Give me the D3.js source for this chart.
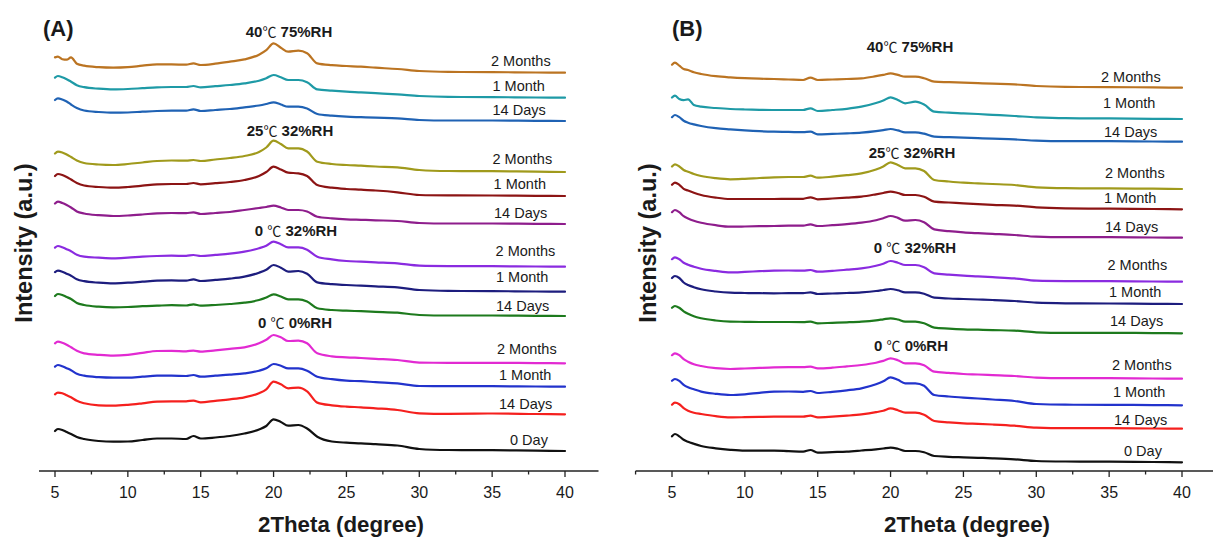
<!DOCTYPE html>
<html><head><meta charset="utf-8">
<script src="https://cdn.jsdelivr.net/npm/d3@7"></script>
<style>body{margin:0;background:#fff}svg{display:block}</style>
</head><body>
<svg id="c" width="1213" height="537"></svg>
<script>
// ---------- DATA ----------
const twoTheta = [5, 5.2, 5.5, 5.8, 6.1, 6.5, 7, 8, 9, 10, 11, 12, 13, 14, 14.5, 15, 16, 17, 18, 19, 19.5, 20, 20.5, 21, 21.7, 22.3, 23, 24, 25, 26, 27, 28.5, 30, 32, 35, 38, 40];
const majorTicks = [5, 10, 15, 20, 25, 30, 35, 40];
const minorTicks = [2.5, 7.5, 12.5, 17.5, 22.5, 27.5, 32.5, 37.5, 42.5];
const seriesLabels = ["0 Day", "14 Days", "1 Month", "2 Months", "14 Days", "1 Month", "2 Months", "14 Days", "1 Month", "2 Months", "14 Days", "1 Month", "2 Months"];

// Panel A (relative intensity, a.u.)
const a_0C0RH_0Day      = [20, 22, 21, 19, 17, 14, 12, 10, 9.3, 9.5, 11, 12.5, 12.5, 12, 15, 12.5, 13.5, 15, 17.5, 21.5, 25, 31.7, 29, 25.3, 26, 22.5, 14.3, 9.5, 8.3, 7.7, 6.8, 5.5, 2, 1, 0.8, 0.3, 0];
const a_0C0RH_14Days    = [20, 21.7, 21, 19, 17, 13.5, 11, 9, 8.7, 9.5, 11, 12.7, 13, 13, 13.7, 12, 13.5, 15, 17, 21, 25, 32.7, 30, 26, 26.7, 23, 11.7, 9, 7.7, 7, 6, 4.3, 1, 0.5, 0.8, 0.3, 0];
const a_0C0RH_1Month    = [20, 21.7, 20.5, 18.5, 16.5, 13, 11, 9.5, 9, 9, 10, 11, 11, 10.7, 11.7, 10, 11, 12, 13.3, 16, 18.5, 22.7, 21, 18.3, 18.3, 16, 10, 7.5, 6, 5.5, 4.5, 3.3, 0.7, 0.5, 0.5, 0.2, 0];
const a_0C0RH_2Months   = [20, 21.7, 20.5, 18.5, 16, 12.5, 10, 8.5, 7.7, 8.5, 10.5, 12.3, 12.5, 12, 12.7, 11.7, 13, 14.5, 16, 20, 23.5, 28.3, 26, 22.3, 22.7, 20, 10, 7, 6, 5.3, 4.5, 3.3, 0.7, 0.5, 0.5, 0.2, 0];
const a_0C32RH_14Days   = [20, 22, 21, 19, 17, 13, 11, 9.3, 8.7, 9, 9.8, 10.3, 10.8, 10.5, 11.7, 10.3, 11, 12, 13.3, 16, 18.5, 21.7, 19.5, 16.7, 16.7, 14.5, 7.7, 6, 5.3, 4.8, 4.2, 3.3, 1, 0.5, 0.5, 0.2, 0];
const a_0C32RH_1Month   = [19.5, 21, 20, 18, 16, 12.5, 10.5, 9, 8.3, 9, 10, 11, 11.3, 11, 12.3, 10.7, 11.8, 13, 15, 19, 22, 26.7, 24, 20, 20.7, 18, 9.3, 7.5, 6.7, 6, 5.3, 4.3, 1.7, 0.8, 0.6, 0.2, 0];
const a_0C32RH_2Months  = [19, 20.7, 19.5, 17.5, 15.5, 12, 10, 9, 8.3, 9, 10, 10.7, 11, 10.8, 11.7, 10.7, 11.8, 13, 15, 18.5, 21, 25, 22.5, 19.3, 19.3, 17, 10, 7.3, 5.7, 5, 4.3, 3.3, 1, 0.6, 0.5, 0.2, 0];
const a_25C32RH_14Days  = [20.5, 22.3, 21, 19, 16.5, 12.5, 10.5, 8.8, 8, 8.5, 9.5, 10.7, 11, 10.8, 11.7, 10, 11, 12, 14, 16, 17, 18.3, 16.5, 14, 14, 12.5, 7.3, 5.7, 4.7, 4.2, 3.7, 3, 1, 0.5, 0.5, 0.2, 0];
const a_25C32RH_1Month  = [20, 22, 21, 19, 16.5, 13, 10.5, 9, 8.3, 9, 10.3, 11.7, 12, 12, 13, 11.7, 12.8, 14, 16, 20, 24, 29.3, 26.5, 23.3, 22.7, 20, 11, 8.3, 7, 6.3, 5.5, 3.7, 1, 0.6, 0.5, 0.2, 0];
const a_25C32RH_2Months = [18.5, 20.3, 19.5, 17.5, 15, 11.5, 9, 7.5, 7, 8, 9.5, 11, 11.5, 11.3, 12, 11, 12.5, 14, 16, 20, 24.5, 31.3, 28, 23.7, 23.7, 20.5, 10.3, 8, 7, 6.3, 5.5, 4.7, 2, 1, 0.8, 0.3, 0];
const a_40C75RH_14Days  = [21, 22.7, 21.5, 19.5, 16.5, 13, 10.5, 9, 8.3, 8.5, 9.3, 10, 10.3, 10.3, 11.7, 10, 11, 12, 13.7, 15.5, 17, 18.7, 16.5, 14.3, 14.3, 12.5, 7, 5.3, 4.3, 3.8, 3.3, 2.7, 1, 0.5, 0.5, 0.2, 0];
const a_40C75RH_1Month  = [20, 21.7, 20.5, 18.5, 16, 12.5, 10.5, 9, 8.3, 8.7, 9.5, 10.3, 10.7, 10.7, 11.7, 10.3, 11.5, 12.7, 14.3, 17, 19.5, 22.7, 20.5, 17.7, 17.7, 15.5, 8.3, 7, 6, 5.3, 4.5, 3.3, 1.7, 0.8, 0.6, 0.2, 0];
const a_40C75RH_2Months = [15.3, 16, 13.5, 13, 15.3, 9, 7, 5.5, 5, 5.5, 7, 8.3, 8.3, 8, 9.3, 7.7, 9, 11, 13.3, 18, 22.5, 29.3, 25, 21, 22, 19.5, 9.3, 7.5, 6.7, 6, 5, 3.7, 1.7, 0.8, 0.6, 0.2, 0];
const offsetsA = [20, 56.7, 84.3, 107.7, 155, 179.3, 204.3, 247, 275, 299, 350, 373.3, 398.3];

// Panel B (relative intensity, a.u.)
const b_0C0RH_0Day      = [26, 28.3, 26, 22.5, 20.5, 18.5, 16.3, 14, 12.5, 11.7, 11.7, 11.7, 11.2, 10.7, 12.3, 9.7, 10.2, 10.7, 11.8, 13, 13.8, 14.7, 13.5, 11.3, 11.3, 10, 6.3, 5.5, 5, 4.5, 4, 3, 1.3, 0.8, 0.6, 0.3, 0];
const b_0C0RH_14Days    = [24, 26, 24.5, 20.5, 18, 16, 14.7, 12.5, 11.3, 11.5, 11.8, 12, 12, 12, 13, 11.3, 12, 13, 14.3, 16.5, 18, 20.3, 18.5, 16, 16, 14, 7.7, 6.3, 5.3, 4.8, 4.2, 3, 1, 0.5, 0.5, 0.2, 0];
const b_0C0RH_1Month    = [24.5, 26.3, 24.5, 20.5, 18, 16, 13.7, 11.5, 10.3, 11, 12.5, 13.7, 13.8, 13.5, 14.3, 12.3, 13.5, 15, 17, 21, 24, 28, 25.5, 22, 22, 19.5, 10.3, 8.8, 7.7, 6.8, 5.8, 4.3, 1.3, 0.6, 0.5, 0.2, 0];
const b_0C0RH_2Months   = [23.5, 25.3, 23.5, 19.5, 17, 14.5, 12.7, 10.5, 9.7, 10.2, 10.8, 11.3, 11.5, 11.5, 12, 10.3, 11, 12.3, 13.7, 16, 17.8, 20.3, 18.5, 15.3, 15.3, 13.5, 7, 5.8, 4.7, 4.2, 3.6, 2.7, 1, 0.5, 0.5, 0.2, 0];
const b_0C32RH_14Days   = [25.5, 27.3, 25.5, 22, 19.5, 17, 15, 12.8, 11.7, 11.5, 11.3, 11.3, 11.3, 11.2, 11.7, 10, 10.5, 11, 11.7, 13, 14, 15, 13.8, 11.7, 11.7, 10, 5.7, 4.7, 4, 3.6, 3.2, 2.7, 1, 0.5, 0.5, 0.2, 0];
const b_0C32RH_1Month   = [26, 28, 26, 21.5, 19, 16.8, 14.7, 12.5, 11.3, 11, 10.8, 10.7, 10.8, 10.8, 11.7, 10, 10.5, 11, 11.7, 13, 14, 15, 13.8, 11.7, 11.7, 10.3, 6.3, 5.5, 5, 4.5, 4, 3, 1.3, 0.7, 0.5, 0.2, 0];
const b_0C32RH_2Months  = [22.5, 24.3, 22.5, 19, 17, 15, 13, 10.8, 9.3, 9.8, 10.5, 11, 11.2, 11, 11.7, 10, 10.8, 12, 13.3, 16, 18, 20.7, 19, 16.7, 16.7, 14.5, 8.3, 7, 6, 5.3, 4.5, 3.3, 1, 0.6, 0.5, 0.2, 0];
const b_25C32RH_14Days  = [25.5, 27.7, 25.5, 21.5, 19.3, 17, 15, 12.5, 11, 11.2, 11.5, 11.7, 12, 12, 13.3, 11.7, 12.5, 13.5, 15, 17.5, 19.5, 21.7, 19.8, 17, 17.7, 15.5, 8.3, 6.5, 5.3, 4.5, 3.8, 2.7, 1, 0.5, 0.5, 0.2, 0];
const b_25C32RH_1Month  = [24.5, 26.7, 24.5, 20.5, 18.7, 16.5, 14.3, 11.7, 10.3, 10.3, 10.3, 10.3, 10.5, 10.5, 12, 10, 10.8, 11.7, 12.7, 15, 16.3, 17.7, 16.3, 14.3, 14.3, 12.5, 7.7, 6.8, 6, 5.2, 4.5, 3.7, 2, 1, 0.6, 0.3, 0];
const b_25C32RH_2Months = [22.5, 24.7, 22.5, 19, 17.3, 15, 13, 10.8, 9.7, 10.2, 11, 11.7, 12, 12, 13.3, 11.3, 12.3, 13.8, 15.7, 19.5, 22.5, 26.7, 24, 20.7, 20.7, 18, 9, 7.5, 6.3, 5.6, 5, 4, 1.7, 0.8, 0.6, 0.3, 0];
const b_40C75RH_14Days  = [24.5, 26.7, 24.5, 21, 19, 17.3, 15.7, 13.5, 12.3, 11.3, 10.5, 10, 9.8, 9.5, 10, 7.3, 7.8, 8.3, 9, 10.5, 11.5, 12.7, 11.3, 9.3, 9.3, 8, 5, 4.5, 4, 3.5, 3, 2.3, 1, 0.5, 0.5, 0.2, 0];
const b_40C75RH_1Month  = [21.5, 23.3, 20, 18.8, 19.7, 14, 12.3, 11, 10, 9.5, 9.2, 9, 9, 9, 10.7, 8, 9, 10.2, 12.3, 16, 18.5, 21.7, 19, 15.7, 17.3, 14.5, 7.3, 6.3, 5.7, 5, 4.2, 3, 1.7, 0.8, 0.6, 0.2, 0];
const b_40C75RH_2Months = [23, 25, 22, 18.7, 17.7, 15.5, 13.7, 11.5, 10.3, 9.5, 9, 8.7, 8.2, 7.7, 10, 7.7, 8.2, 8.7, 9.3, 11.5, 12.8, 14.3, 12.8, 11, 11, 9.5, 6, 5.5, 5, 4.5, 4, 3.3, 1.7, 0.8, 0.6, 0.3, 0];
const offsetsB = [8.7, 42.3, 65.7, 92.3, 137.7, 167, 189.3, 233.3, 261.7, 282, 329.3, 352, 383.3];

const conditions = ["0 ℃ 0%RH", "0 ℃ 32%RH", "25℃ 32%RH", "40℃ 75%RH"];

// ---------- STYLE / LAYOUT ----------
const colors = ["#111111", "#f5201e", "#2233cc", "#e22ad2", "#1d7a1d", "#1d1d7e", "#8a2be0", "#8e1d8c", "#8c1414", "#a09a1c", "#1f62b4", "#1e9aa6", "#bb7422"];
const svg = d3.select("#c");
const y = d3.scaleLinear().domain([0, 450]).range([471, 21]);
const textCol = "#1a1a1a";
const FONT = "'Liberation Sans', Arial, sans-serif";

const panels = [
  { id: "(A)", series: [a_0C0RH_0Day, a_0C0RH_14Days, a_0C0RH_1Month, a_0C0RH_2Months, a_0C32RH_14Days, a_0C32RH_1Month, a_0C32RH_2Months, a_25C32RH_14Days, a_25C32RH_1Month, a_25C32RH_2Months, a_40C75RH_14Days, a_40C75RH_1Month, a_40C75RH_2Months],
    offsets: offsetsA, range: [55, 565], axisExt: [3.9, 42.3], idPos: [43, 36],
    labelX: [510, 499, 499, 497, 496, 496, 495.6, 494, 493.6, 492.5, 492.5, 492.5, 491],
    labelLift: [11, 10.3, 11.7, 14.3, 10.3, 15, 15.7, 11, 12, 13, 11, 12, 11.7],
    cond: [[295, 323], [296, 231], [290, 131], [289, 32]], ylabX: 24, titleX: 341 },
  { id: "(B)", series: [b_0C0RH_0Day, b_0C0RH_14Days, b_0C0RH_1Month, b_0C0RH_2Months, b_0C32RH_14Days, b_0C32RH_1Month, b_0C32RH_2Months, b_25C32RH_14Days, b_25C32RH_1Month, b_25C32RH_2Months, b_40C75RH_14Days, b_40C75RH_1Month, b_40C75RH_2Months],
    offsets: offsetsB, range: [672, 1182], axisExt: [2.5, 42.3], idPos: [672, 36],
    labelX: [1124, 1114, 1113, 1112, 1110, 1109, 1107.5, 1105, 1104, 1105, 1104, 1103, 1101],
    labelLift: [11.3, 8.7, 13.6, 13.7, 12.3, 11.7, 16.7, 10.4, 11, 16.3, 10, 15.7, 11],
    cond: [[911, 346], [915, 248], [912, 153], [910, 47]], ylabX: 648, titleX: 967 }
];

function condText(sel, str) {
  const i = str.indexOf("℃");
  sel.append("tspan").text(str.slice(0, i));
  sel.append("tspan").attr("font-family", "'Noto Sans CJK SC', sans-serif").attr("font-weight", 400).attr("font-size", 14).text("℃");
  sel.append("tspan").text(str.slice(i + 1));
}

panels.forEach(p => {
  const x = d3.scaleLinear().domain([5, 40]).range(p.range);
  const g = svg.append("g");
  const line = d3.line().x((d, i) => x(twoTheta[i])).curve(d3.curveMonotoneX);

  p.series.forEach((s, k) => {
    g.append("path")
      .attr("d", line.y(d => y(d + p.offsets[k]))(s))
      .attr("fill", "none").attr("stroke", colors[k]).attr("stroke-width", 2.2)
      .attr("stroke-linejoin", "round").attr("stroke-linecap", "round");
    g.append("text")
      .attr("x", p.labelX[k]).attr("y", y(p.offsets[k]) - p.labelLift[k] + 5)
      .attr("font-family", FONT).attr("font-size", 14.5)
      .attr("fill", textCol).text(seriesLabels[k]);
  });

  p.cond.forEach((c, k) => {
    const t = g.append("text").attr("x", c[0]).attr("y", c[1] + 5.3)
      .attr("text-anchor", "middle").attr("font-family", FONT)
      .attr("font-weight", "bold").attr("font-size", 15).attr("fill", textCol);
    condText(t, conditions[k]);
  });

  const axY = y(0);
  g.append("line").attr("x1", x(p.axisExt[0])).attr("x2", x(p.axisExt[1]))
    .attr("y1", axY).attr("y2", axY).attr("stroke", "#222").attr("stroke-width", 1.4);
  g.selectAll(".maj").data(majorTicks).enter().append("line")
    .attr("x1", d => x(d)).attr("x2", d => x(d)).attr("y1", axY).attr("y2", axY + 6)
    .attr("stroke", "#222").attr("stroke-width", 1.3);
  g.selectAll(".min").data(minorTicks.filter(d => d >= p.axisExt[0] && d <= p.axisExt[1])).enter().append("line")
    .attr("x1", d => x(d)).attr("x2", d => x(d)).attr("y1", axY).attr("y2", axY + 3.5)
    .attr("stroke", "#222").attr("stroke-width", 1.3);
  g.selectAll(".tl").data(majorTicks).enter().append("text")
    .attr("x", d => x(d)).attr("y", axY + 27).attr("text-anchor", "middle")
    .attr("font-family", FONT).attr("font-size", 16)
    .attr("fill", textCol).text(d => d);

  g.append("text").attr("x", p.titleX).attr("y", 532).attr("text-anchor", "middle")
    .attr("font-family", FONT).attr("font-weight", "bold")
    .attr("font-size", 22.3).attr("fill", textCol).text("2Theta (degree)");

  g.append("text").attr("transform", `translate(${p.ylabX},243) rotate(-90)`)
    .attr("text-anchor", "middle").attr("dy", "0.35em")
    .attr("font-family", FONT).attr("font-weight", "bold")
    .attr("font-size", 23.5).attr("fill", textCol).text("Intensity (a.u.)");

  g.append("text").attr("x", p.idPos[0]).attr("y", p.idPos[1])
    .attr("font-family", FONT).attr("font-weight", "bold")
    .attr("font-size", 22).attr("fill", textCol).text(p.id);
});
</script>
</body></html>
